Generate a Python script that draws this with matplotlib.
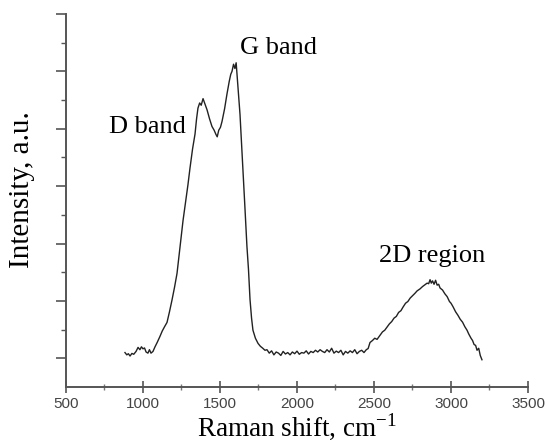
import matplotlib
matplotlib.use("Agg")
import matplotlib.pyplot as plt
from matplotlib.ticker import MultipleLocator

# Raman spectrum (x in cm^-1, y in arbitrary units)
raman_shift = [
    883, 895, 905, 916, 928, 940, 955, 968, 980, 990, 1000, 1010, 1020, 1032, 1042,
    1052, 1065, 1078, 1092, 1110, 1125, 1140, 1156, 1172, 1188, 1205, 1221, 1240,
    1260, 1279, 1292, 1305, 1322, 1338, 1348, 1357, 1368, 1378, 1390, 1400, 1408,
    1416, 1432, 1448, 1462, 1474, 1482, 1492, 1503, 1513, 1530, 1545, 1560, 1570,
    1578, 1588, 1597, 1605, 1617, 1630, 1643, 1653, 1662, 1675, 1685, 1695, 1705,
    1714, 1730, 1747, 1762, 1778, 1792, 1805, 1820, 1835, 1850, 1865, 1880, 1895,
    1910, 1925, 1940, 1955, 1970, 1985, 2000, 2015, 2030, 2045, 2060, 2075, 2090,
    2105, 2120, 2135, 2150, 2165, 2180, 2195, 2210, 2225, 2240, 2255, 2270, 2285,
    2300, 2315, 2330, 2345, 2360, 2375, 2390, 2405, 2420, 2435, 2450, 2462, 2474,
    2490, 2505, 2520, 2539, 2555, 2570, 2584, 2600, 2615, 2630, 2645, 2660, 2675,
    2688, 2705, 2720, 2735, 2750, 2765, 2780, 2799, 2815, 2830, 2845, 2855, 2864,
    2872, 2880, 2890, 2900, 2910, 2920, 2929, 2945, 2960, 2975, 2990, 3000, 3013,
    3030, 3045, 3060, 3075, 3090, 3104, 3115, 3130, 3140, 3150, 3160, 3169, 3180,
    3190, 3201,
]
intensity = [
    1.20, 1.12, 1.16, 1.08, 1.17, 1.14, 1.24, 1.38, 1.30, 1.40, 1.33, 1.36, 1.22, 1.18, 1.30,
    1.18, 1.24, 1.40, 1.55, 1.76, 1.95, 2.10, 2.25, 2.62, 3.02, 3.48, 3.96, 4.86,
    5.80, 6.55, 7.05, 7.62, 8.30, 8.82, 9.35, 9.72, 9.90, 9.82, 10.05, 9.90, 9.78,
    9.66, 9.35, 9.08, 8.95, 8.80, 8.72, 8.95, 9.05, 9.25, 9.70, 10.20, 10.65, 10.90,
    11.00, 11.25, 11.10, 11.30, 10.45, 9.50, 8.20, 7.20, 6.25, 4.90, 4.10, 3.05, 2.40,
    1.98, 1.70, 1.52, 1.42, 1.35, 1.28, 1.30, 1.18, 1.26, 1.12, 1.22, 1.18, 1.10,
    1.24, 1.15, 1.20, 1.12, 1.22, 1.16, 1.25, 1.14, 1.20, 1.18, 1.26, 1.15, 1.24,
    1.20, 1.28, 1.22, 1.30, 1.24, 1.20, 1.30, 1.22, 1.35, 1.18, 1.25, 1.20, 1.28,
    1.12, 1.24, 1.18, 1.26, 1.20, 1.30, 1.16, 1.24, 1.28, 1.20, 1.30, 1.34, 1.55,
    1.62, 1.70, 1.66, 1.80, 1.92, 1.98, 2.08, 2.20, 2.28, 2.40, 2.46, 2.60, 2.66,
    2.78, 2.92, 2.98, 3.10, 3.18, 3.26, 3.35, 3.42, 3.50, 3.56, 3.62, 3.60, 3.74,
    3.62, 3.70, 3.58, 3.72, 3.55, 3.58, 3.45, 3.38, 3.25, 3.15, 2.98, 2.92, 2.80,
    2.62, 2.50, 2.36, 2.26, 2.10, 1.98, 1.85, 1.70, 1.62, 1.48, 1.45, 1.28, 1.35,
    1.10, 0.95,
]

peak_labels = ["D band", "G band", "2D region"]
label_x = [1032, 1877, 2877]
label_y = [9.06, 11.8, 4.55]

fig = plt.figure(figsize=(5.48, 4.46), dpi=100)
ax = fig.add_axes([0.1204, 0.1323, 0.8431, 0.8363])

ax.plot(raman_shift, intensity, color='#222222', lw=1.0)

ax.set_xlim(500, 3500)
ax.set_ylim(0, 13)

for side in ['top', 'right']:
    ax.spines[side].set_visible(False)
for side in ['left', 'bottom']:
    ax.spines[side].set_color('#555555')
    ax.spines[side].set_linewidth(1.4)

ax.xaxis.set_major_locator(MultipleLocator(500))
ax.xaxis.set_minor_locator(MultipleLocator(250))
ax.set_yticks([1, 3, 5, 7, 9, 11, 13])
ax.set_yticks([2, 4, 6, 8, 10, 12], minor=True)
ax.set_yticklabels([])
ax.tick_params(axis='x', which='major', direction='inout', length=8, width=1.2,
               color='#555555', labelsize=11, labelcolor='#444444', pad=3)
ax.tick_params(axis='x', which='minor', direction='inout', length=4, width=1.0,
               color='#777777')
ax.tick_params(axis='y', which='major', direction='out', length=7, width=1.2,
               color='#555555')
ax.tick_params(axis='y', which='minor', direction='out', length=3.5, width=1.0,
               color='#555555')
for lbl in ax.get_xticklabels():
    lbl.set_fontfamily('Liberation Sans')

serif = 'Liberation Serif'
ax.set_xlabel(r'Raman shift, cm$^{\mathregular{-1}}$', fontsize=19.5, family=serif,
              labelpad=1)
ax.set_ylabel('Intensity, a.u.', fontsize=21, family=serif)
ax.yaxis.set_label_coords(-0.067, 0.528)

for text, x, y in zip(peak_labels, label_x, label_y):
    ax.text(x, y, text, fontsize=19, family=serif, ha='center', va='center')

fig.savefig('out.png', dpi=100)
